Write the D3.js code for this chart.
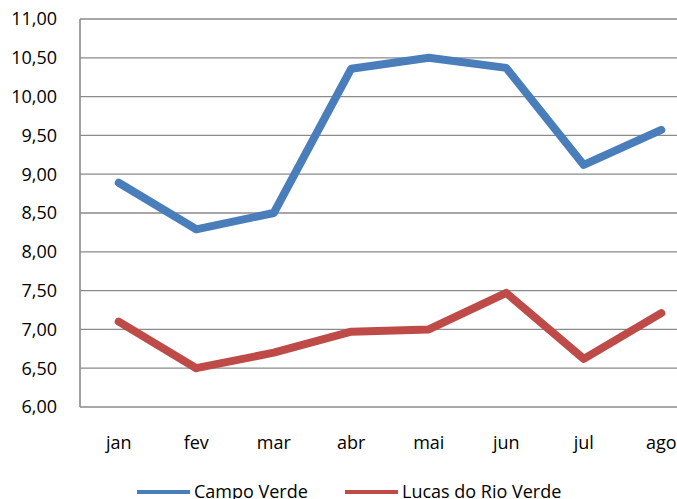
<!DOCTYPE html>
<html>
<head>
<meta charset="utf-8">
<script src="https://cdn.jsdelivr.net/npm/d3@7"></script>
<style>
  body { margin: 0; background: #fff; }
  svg { display: block; font-family: "Open Sans", "Noto Sans", sans-serif; }
</style>
</head>
<body>
<div id="chart"></div>
<script>
var months = ["jan", "fev", "mar", "abr", "mai", "jun", "jul", "ago"];
var campoVerde = [8.89, 8.29, 8.50, 10.36, 10.50, 10.37, 9.12, 9.57];
var lucasRioVerde = [7.10, 6.50, 6.70, 6.97, 7.00, 7.47, 6.62, 7.21];
var yTicks = [6, 6.5, 7, 7.5, 8, 8.5, 9, 9.5, 10, 10.5, 11];

var series = [
    {name: "Campo Verde", values: campoVerde, color: "#4a7ebb"},
    {name: "Lucas do Rio Verde", values: lucasRioVerde, color: "#be4b48"}
];

var width = 677, height = 499;
var plotLeft = 80, plotTop = 19, plotBottom = 407;

var svg = d3.select("#chart").append("svg")
    .attr("width", width)
    .attr("height", height);

// the plot runs past the right edge of the picture, as in the original
var x = d3.scaleBand().domain(months).range([plotLeft, plotLeft + 8 * 77.5]);
var y = d3.scaleLinear().domain([6, 11]).range([plotBottom, plotTop]);

var fmt = function(d) { return d3.format(".2f")(d).replace(".", ","); };

// gridlines
svg.append("g")
    .selectAll("line")
    .data(yTicks)
    .enter()
    .append("line")
    .attr("x1", plotLeft)
    .attr("x2", width)
    .attr("y1", d => y(d))
    .attr("y2", d => y(d))
    .attr("stroke", "#8a8a8a")
    .attr("stroke-width", d => d === 6 ? 1.6 : 1.3);

// left axis
svg.append("line")
    .attr("x1", plotLeft).attr("x2", plotLeft)
    .attr("y1", plotTop).attr("y2", plotBottom)
    .attr("stroke", "#8a8a8a")
    .attr("stroke-width", 1.6);

// y labels
svg.append("g")
    .selectAll("text")
    .data(yTicks)
    .enter()
    .append("text")
    .attr("x", 57)
    .attr("y", d => y(d))
    .attr("dy", "0.36em")
    .attr("text-anchor", "end")
    .style("font-size", "18px")
    .style("fill", "#000")
    .text(fmt);

// x labels
svg.append("g")
    .selectAll("text")
    .data(months)
    .enter()
    .append("text")
    .attr("x", d => x(d) + x.bandwidth() / 2)
    .attr("y", 449)
    .attr("text-anchor", "middle")
    .style("font-size", "18px")
    .style("fill", "#000")
    .text(d => d);

var line = d3.line()
    .x((d, i) => x(months[i]) + x.bandwidth() / 2)
    .y(d => y(d));

svg.selectAll(".series")
    .data(series)
    .enter()
    .append("path")
    .attr("class", "series")
    .attr("d", d => line(d.values))
    .attr("fill", "none")
    .attr("stroke", d => d.color)
    .attr("stroke-width", 8)
    .attr("stroke-linejoin", "round")
    .attr("stroke-linecap", "round");

// legend
var legendX = [137, 345];
var legend = svg.selectAll(".legend")
    .data(series)
    .enter()
    .append("g")
    .attr("class", "legend")
    .attr("transform", (d, i) => `translate(${legendX[i]}, 492)`);

legend.append("line")
    .attr("x1", 0).attr("x2", 53)
    .attr("stroke", d => d.color)
    .attr("stroke-width", 4);

legend.append("text")
    .attr("x", 57)
    .attr("y", 6)
    .style("font-size", "18px")
    .style("fill", "#000")
    .text(d => d.name);
</script>
</body>
</html>
